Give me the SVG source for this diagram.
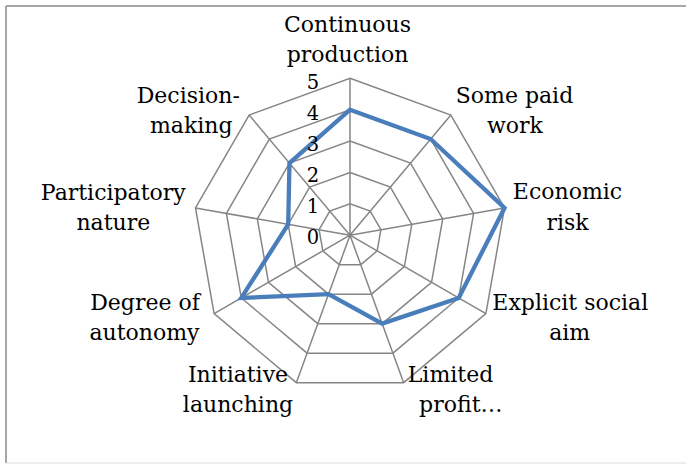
<svg xmlns="http://www.w3.org/2000/svg" width="686" height="464" viewBox="0 0 686 464">
<style>
.grid{fill:none;stroke:#868686;stroke-width:1.5}
.series{fill:none;stroke:#4A7EBB;stroke-width:4.3;stroke-linejoin:miter}
.lbl{font-family:"DejaVu Serif","Liberation Serif",serif;font-size:22px;fill:#000;text-anchor:middle}
.num{font-family:"DejaVu Serif","Liberation Serif",serif;font-size:19.5px;fill:#000;text-anchor:middle}
</style>
<rect x="0" y="0" width="686" height="464" fill="#fff"/>
<g id="frame">
<line x1="6" y1="6" x2="686" y2="6" stroke="#8a8a8a" stroke-width="1.5"/>
<line x1="6" y1="6" x2="6" y2="463" stroke="#8a8a8a" stroke-width="1.5"/>
<line x1="6" y1="463" x2="686" y2="463" stroke="#dcdcdc" stroke-width="1.2"/>
</g>
<g id="grid">
<polygon class="grid" points="350,78.3 450.86,115.01 504.52,207.96 485.88,313.65 403.66,382.64 296.34,382.64 214.12,313.65 195.48,207.96 249.14,115.01"/>
<polygon class="grid" points="350,109.68 430.68,139.05 473.61,213.41 458.70,297.96 392.93,353.15 307.07,353.15 241.30,297.96 226.39,213.41 269.32,139.05"/>
<polygon class="grid" points="350,141.06 410.51,163.09 442.71,218.86 431.53,282.27 382.20,323.66 317.80,323.66 268.47,282.27 257.29,218.86 289.49,163.09"/>
<polygon class="grid" points="350,172.44 390.34,187.13 411.81,224.30 404.35,266.58 371.46,294.18 328.54,294.18 295.65,266.58 288.19,224.30 309.66,187.13"/>
<polygon class="grid" points="350,203.82 370.17,211.16 380.90,229.75 377.18,250.89 360.73,264.69 339.27,264.69 322.82,250.89 319.10,229.75 329.83,211.16"/>
<path class="grid" d="M350,235.2L350,78.3M350,235.2L450.86,115.01M350,235.2L504.52,207.96M350,235.2L485.88,313.65M350,235.2L403.66,382.64M350,235.2L296.34,382.64M350,235.2L214.12,313.65M350,235.2L195.48,207.96M350,235.2L249.14,115.01"/>
</g>
<g id="series">
<polygon class="series" points="350,109.68 430.68,139.05 504.52,207.96 458.70,297.96 382.20,323.66 328.54,294.18 241.30,297.96 288.19,224.30 289.49,163.09"/>
</g>
<g id="axis-values">
<text class="num" x="313" y="88.5">5</text>
<text class="num" x="313" y="119.5">4</text>
<text class="num" x="313" y="150.5">3</text>
<text class="num" x="313" y="182">2</text>
<text class="num" x="313" y="213">1</text>
<text class="num" x="313" y="244">0</text>
</g>
<g id="cat-continuous-production">
<text class="lbl" x="347.5" y="32">Continuous</text>
<text class="lbl" x="347.5" y="61.5">production</text>
</g>
<g id="cat-some-paid-work">
<text class="lbl" x="514.5" y="103">Some paid</text>
<text class="lbl" x="515" y="132.5">work</text>
</g>
<g id="cat-economic-risk">
<text class="lbl" x="567.5" y="199">Economic</text>
<text class="lbl" x="567.5" y="229.5">risk</text>
</g>
<g id="cat-explicit-social-aim">
<text class="lbl" x="570.3" y="310">Explicit social</text>
<text class="lbl" x="569.7" y="340">aim</text>
</g>
<g id="cat-limited-profit">
<text class="lbl" x="450.5" y="381.5">Limited</text>
<text class="lbl" x="460.8" y="411.5">profit…</text>
</g>
<g id="cat-initiative-launching">
<text class="lbl" x="238" y="381.5">Initiative</text>
<text class="lbl" x="238" y="411.5">launching</text>
</g>
<g id="cat-degree-of-autonomy">
<text class="lbl" x="145" y="310">Degree of</text>
<text class="lbl" x="144.5" y="340">autonomy</text>
</g>
<g id="cat-participatory-nature">
<text class="lbl" x="113.3" y="200">Participatory</text>
<text class="lbl" x="113.3" y="230">nature</text>
</g>
<g id="cat-decision-making">
<text class="lbl" x="188.3" y="103">Decision-</text>
<text class="lbl" x="191.3" y="133">making</text>
</g>
</svg>
